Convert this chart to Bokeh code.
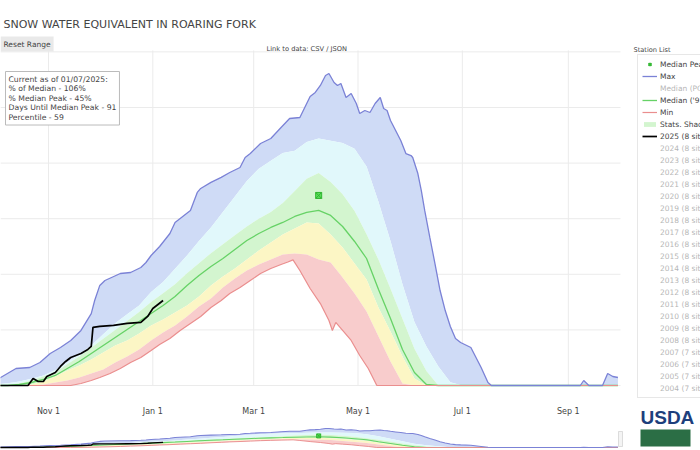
import numpy as np
import pandas as pd
from bokeh.plotting import figure
from bokeh.models import Range1d, Label, Legend, LegendItem, BoxAnnotation
from bokeh.core.properties import value
from bokeh.embed import file_html
from bokeh.resources import INLINE

# ---------------- data (days counted from start of water year) ----------------
WY_START = "2024-10-01"

grid_day = [0, 7, 14, 21, 28, 35, 42, 49, 56, 63, 70, 77, 84, 91, 98, 105, 112, 119, 126, 133,
            140, 147, 154, 161, 168, 175, 182, 189, 196, 203, 210, 217, 224, 231, 238, 245, 252,
            259, 266, 273, 280, 287, 294, 301, 308, 315, 322, 329, 336, 343, 350, 357, 364]

p90 = [0.1, 0.2, 0.35, 0.6, 0.9, 1.4, 2.1, 2.8, 3.6, 4.6, 5.6, 6.4, 7.2, 8.4, 9.3, 10.5, 11.7, 13.0,
       14.2, 15.6, 17.0, 18.4, 19.5, 20.2, 20.9, 21.1, 21.9, 22.2, 22.0, 21.8, 21.3, 19.7, 16.5, 13.0,
       9.1, 5.7, 3.5, 1.7, 0.3, 0, 0, 0, 0, 0, 0, 0, 0, 0, 0, 0, 0, 0, 0]
p70 = [0, 0.05, 0.2, 0.45, 0.8, 1.2, 1.9, 2.6, 3.4, 4.2, 5.0, 5.8, 6.6, 7.5, 8.3, 9.1, 10.1, 11.0,
       11.9, 12.7, 13.5, 14.3, 15.0, 15.6, 16.4, 17.5, 18.6, 19.1, 18.3, 17.2, 15.7, 13.6, 11.3, 8.7,
       6.0, 3.3, 1.3, 0, 0, 0, 0, 0, 0, 0, 0, 0, 0, 0, 0, 0, 0, 0, 0]
median_9120 = [0, 0, 0.09, 0.27, 0.54, 0.9, 1.53, 2.16, 2.88, 3.6, 4.32, 5.04, 5.76, 6.47, 7.19, 8.0,
               8.99, 9.89, 10.7, 11.42, 12.23, 13.04, 13.67, 14.21, 14.66, 15.2, 15.56, 15.74, 15.29,
               14.3, 12.95, 11.42, 8.63, 6.03, 3.24, 1.17, 0.09, 0, 0, 0, 0, 0, 0, 0, 0, 0, 0, 0, 0,
               0, 0, 0, 0]
p30 = [0, 0, 0, 0.09, 0.36, 0.81, 1.35, 1.8, 2.34, 2.97, 3.6, 4.05, 4.68, 5.4, 5.94, 6.56, 7.19, 8.0,
       9.0, 9.8, 10.52, 11.33, 12.14, 12.86, 13.58, 14.12, 14.66, 14.57, 13.58, 12.41, 10.97, 9.53,
       7.0, 4.86, 2.61, 0.63, 0, 0, 0, 0, 0, 0, 0, 0, 0, 0, 0, 0, 0, 0, 0, 0, 0]
p10 = [0, 0, 0, 0, 0.09, 0.27, 0.45, 0.72, 1.08, 1.44, 2.07, 2.61, 3.24, 4.05, 4.77, 5.4, 6.21, 7.1,
       7.82, 8.81, 9.62, 10.34, 10.88, 11.33, 11.78, 11.87, 11.78, 11.33, 11.06, 9.71, 8.27, 6.65,
       4.41, 2.16, 0.18, 0, 0, 0, 0, 0, 0, 0, 0, 0, 0, 0, 0, 0, 0, 0, 0, 0, 0]

max_day = [0, 3, 12, 20, 26, 32, 38, 44, 50, 56, 58, 61, 64, 73, 79, 85, 88, 91, 96, 102, 105, 108,
           114, 118, 120, 126, 132, 137, 143, 146, 149, 155, 161, 167, 172, 178, 182, 184, 187, 190,
           193, 195, 198, 200, 202, 205, 208, 211, 213, 216, 219, 222, 225, 227, 229, 231, 234, 237,
           240, 243, 244, 247, 249, 251, 254, 257, 260, 263, 266, 269, 272, 278, 284, 288, 290, 342,
           344, 347, 355, 358, 361, 364]
max_swe = [0.45, 0.72, 1.53, 1.62, 2.07, 2.88, 3.42, 4.05, 4.95, 6.47, 7.64, 9.0, 9.44, 10.07, 10.16,
           10.61, 11.06, 11.69, 12.5, 13.67, 14.66, 15.02, 15.74, 17.36, 17.72, 18.26, 18.71, 19.15,
           19.6, 20.5, 20.86, 21.76, 22.21, 23.2, 24.01, 24.1, 25.36, 25.99, 26.35, 26.98, 27.88,
           28.06, 27.25, 26.98, 27.16, 25.9, 26.26, 25.36, 24.46, 24.73, 24.55, 25.36, 25.9, 24.91,
           24.73, 23.83, 22.93, 22.03, 20.86, 20.68, 20.5, 19.06, 17.54, 15.74, 13.31, 10.97, 8.54,
           6.74, 5.31, 4.23, 3.87, 3.42, 1.62, 0.27, 0, 0, 0.45, 0, 0, 1.08, 0.81, 0.72]

min_day = [0, 44, 50, 56, 61, 67, 73, 79, 85, 91, 96, 102, 108, 114, 120, 126, 132, 137, 143, 149,
           155, 161, 167, 171, 174, 178, 184, 190, 195, 197, 199, 203, 208, 213, 218, 223, 364]
min_swe = [0, 0, 0.18, 0.45, 0.72, 1.08, 1.53, 2.07, 2.52, 3.15, 3.69, 4.23, 4.95, 5.58, 6.21, 7.01,
           7.64, 8.27, 8.81, 9.44, 10.07, 10.52, 10.88, 11.1, 11.3, 10.34, 8.72, 7.37, 5.85, 4.95,
           5.67, 4.95, 4.05, 2.7, 1.53, 0, 0]

wy2025_day = [0, 19, 22, 25, 28, 30, 35, 38, 41, 44, 50, 54, 56, 57, 61, 69, 77, 85, 89, 92, 95, 98]
wy2025_swe = [0, 0, 0.63, 0.36, 0.36, 0.81, 1.17, 1.71, 2.16, 2.52, 2.88, 3.24, 3.51, 5.22, 5.31,
              5.4, 5.58, 5.67, 6.21, 6.92, 7.28, 7.64]

median_peak_day = [189]
median_peak_swe = [17.09]

tick_dates = ["2024-11-01", "2025-01-01", "2025-03-01", "2025-05-01", "2025-07-01", "2025-09-01"]
tick_labels = ["Nov 1", "Jan 1", "Mar 1", "May 1", "Jul 1", "Sep 1"]
y_grid_vals = [0, 5, 10, 15, 20, 25, 30]

info_lines = ["Current as of 01/07/2025:", "% of Median - 106%", "% Median Peak - 45%",
              "Days Until Median Peak - 91", "Percentile - 59"]

year_labels = ["2024 (8 sites)", "2023 (8 sites)", "2022 (8 sites)", "2021 (8 sites)",
               "2020 (8 sites)", "2019 (8 sites)", "2018 (8 sites)", "2017 (8 sites)",
               "2016 (8 sites)", "2015 (8 sites)", "2014 (8 sites)", "2013 (8 sites)",
               "2012 (8 sites)", "2011 (8 sites)", "2010 (8 sites)", "2009 (8 sites)",
               "2008 (8 sites)", "2007 (7 sites)", "2006 (7 sites)", "2005 (7 sites)",
               "2004 (7 sites)"]
year_colors = ["#FFA15A", "#ab63fa", "#00cc96", "#EF553B", "#636efa", "#FECB52", "#FF97FF",
               "#B6E880", "#FF6692", "#19d3f3", "#FFA15A", "#ab63fa", "#00cc96", "#EF553B",
               "#636efa", "#FECB52", "#FF97FF", "#B6E880", "#FF6692", "#19d3f3", "#FFA15A"]

# ---------------- layout constants (canvas = frame = 700 x 450) ----------------
X_START_DAY, X_END_DAY = 2.93, 412.29      # days shown across the whole canvas width
PLOT_RIGHT_DAY = 365.5                      # right edge of the plotting area
Y_MAIN = (-5.845, 34.62)                    # inches across the whole canvas height
PLOT_TOP = 30.13                            # top edge of plotting area (inches)
Y_MINI = (-4.42, 658.7)                     # range-slider preview scale

T0 = np.datetime64(WY_START, "ms")
EPOCH_MS = float((T0 - np.datetime64("1970-01-01", "ms")).astype(np.int64))


def to_dates(days):
    return T0 + (np.array(days, dtype=float) * 86400000).astype("timedelta64[ms]")


def ms(days):
    return EPOCH_MS + days * 86400000.0


gx = to_dates(grid_day)
mx = to_dates(max_day)
nx = to_dates(min_day)
cx = to_dates(wy2025_day)
pkx = to_dates(median_peak_day)
tick_x = np.array([np.datetime64(d, "ms") for d in tick_dates])

FONT = "DejaVu Sans"
TXT = "#444444"
C_BLUE = "#cfdbf6"
C_CYAN = "#e1f8fb"
C_GREEN = "#d3f5cf"
C_YELLOW = "#fcf6c5"
C_RED = "#f8cccc"
C_MAX = "#7b82d6"
C_MED = "#66d266"
C_MIN = "#ea8e8e"
C_GRID = "#ebebeb"

p = figure(width=700, height=450, x_axis_type="datetime",
           x_range=Range1d(ms(X_START_DAY), ms(X_END_DAY)), y_range=Range1d(*Y_MAIN),
           x_axis_location=None, y_axis_location=None,
           toolbar_location=None, output_backend="svg", title=None,
           min_border_left=0, min_border_right=0, min_border_top=0, min_border_bottom=0,
           background_fill_color="white", border_fill_color="white", outline_line_color=None)
p.extra_y_ranges = {"mini": Range1d(*Y_MINI)}
for g in p.grid:
    g.visible = False

# grid lines of the plotting area
n = len(tick_x)
p.segment(x0=tick_x, y0=[0] * n, x1=tick_x, y1=[PLOT_TOP] * n, line_color=C_GRID, line_width=1)
k = len(y_grid_vals)
p.segment(x0=[ms(X_START_DAY)] * k, y0=y_grid_vals, x1=[ms(PLOT_RIGHT_DAY)] * k, y1=y_grid_vals,
          line_color=C_GRID, line_width=1)

# x tick labels
p.text(x=tick_x, y=[0] * n, text=tick_labels, y_offset=26, text_font=value(FONT),
       text_font_size="8px", text_color=TXT, text_align="center", text_baseline="middle")


def draw_series(fig, yname="default", lw=1.0, msize=6):
    kw = dict(y_range_name=yname)
    fig.patch(np.concatenate([mx, gx[::-1]]), list(max_swe) + list(p90[::-1]),
              fill_color=C_BLUE, line_color=None, **kw)
    fig.varea(x=gx, y1=p70, y2=p90, fill_color=C_CYAN, **kw)
    r_green = fig.varea(x=gx, y1=p30, y2=p70, fill_color=C_GREEN, **kw)
    fig.varea(x=gx, y1=p10, y2=p30, fill_color=C_YELLOW, **kw)
    fig.patch(np.concatenate([gx, nx[::-1]]), list(p10) + list(min_swe[::-1]),
              fill_color=C_RED, line_color=None, **kw)
    r_med = fig.line(gx, median_9120, line_color=C_MED, line_width=1.3 * lw, **kw)
    r_min = fig.line(nx, min_swe, line_color=C_MIN, line_width=1.2 * lw, **kw)
    r_max = fig.line(mx, max_swe, line_color=C_MAX, line_width=1.3 * lw, **kw)
    r_cur = fig.line(cx, wy2025_swe, line_color="black", line_width=1.7 * lw, **kw)
    r_pk = fig.scatter(pkx, median_peak_swe, marker="square_x", size=msize,
                       fill_color="#5bdc5b", line_color="#2fb52f", line_width=1, **kw)
    return dict(green=r_green, med=r_med, min=r_min, max=r_max, cur=r_cur, pk=r_pk)


R = draw_series(p)
draw_series(p, yname="mini", lw=0.8, msize=4)

r_por = p.line([], [], line_color="#bbbbbb", line_dash="4 2", line_width=1.3, visible=False)
year_r = [p.line([], [], line_color=c, line_width=1.3, visible=False) for c in year_colors]

items = [LegendItem(label="Median Peak", renderers=[R["pk"]]),
         LegendItem(label="Max", renderers=[R["max"]]),
         LegendItem(label="Median (POR)", renderers=[r_por]),
         LegendItem(label="Median ('91-'20)", renderers=[R["med"]]),
         LegendItem(label="Min", renderers=[R["min"]]),
         LegendItem(label="Stats. Shading", renderers=[R["green"]]),
         LegendItem(label="2025 (8 sites)", renderers=[R["cur"]])]
items += [LegendItem(label=l, renderers=[r]) for l, r in zip(year_labels, year_r)]

# legend location = its bottom-left corner, in px from the canvas bottom-left
legend = Legend(items=items, location=(637, 52), orientation="vertical",
                padding=4, margin=0, spacing=2, glyph_height=6, glyph_width=15,
                label_height=10, label_standoff=3, label_text_font=FONT,
                label_text_font_size="7.5px", label_text_color=TXT,
                border_line_color="#d0d0d0", border_line_width=1,
                background_fill_color="white", background_fill_alpha=1.0,
                click_policy="hide", inactive_fill_color="white", inactive_fill_alpha=0.6)
p.add_layout(legend)

# texts around the plot (screen units from the canvas bottom-left)
p.add_layout(Label(x=3, y=426, x_units="screen", y_units="screen",
                   text="SNOW WATER EQUIVALENT IN ROARING FORK", text_font=FONT,
                   text_font_size="11px", text_color=TXT, text_baseline="middle"))
p.add_layout(Label(x=0, y=406.5, x_units="screen", y_units="screen", text="Reset Range",
                   text_font=FONT, text_font_size="7.5px", text_color=TXT, text_baseline="middle",
                   background_fill_color="#e9e9e9", padding=3))
p.add_layout(Label(x=266, y=402, x_units="screen", y_units="screen",
                   text="Link to data: CSV / JSON", text_font=FONT, text_font_size="6.7px",
                   text_color=TXT, text_baseline="middle"))
p.add_layout(Label(x=633, y=401, x_units="screen", y_units="screen", text="Station List",
                   text_font=FONT, text_font_size="6.6px", text_color=TXT, text_baseline="middle"))
p.add_layout(Label(x=5, y=379, x_units="screen", y_units="screen", text="\n".join(info_lines),
                   text_font=FONT, text_font_size="7.7px", text_color=TXT, text_baseline="top",
                   text_line_height=1.07, border_line_color="#bbbbbb", border_line_width=1,
                   background_fill_color="white", padding=3))

# USDA logo
p.add_layout(Label(x=640, y=23, x_units="screen", y_units="screen", text="USDA",
                   text_font="Liberation Sans", text_font_size="19px", text_font_style="bold",
                   text_color="#1d3f7c", text_baseline="bottom"))
p.add_layout(BoxAnnotation(left=640, right=690, bottom=4, top=21, left_units="screen",
                           right_units="screen", bottom_units="screen", top_units="screen",
                           fill_color="#2b6e45", fill_alpha=1, line_color=None))
# range slider grab handle
p.add_layout(BoxAnnotation(left=618, right=622, bottom=4, top=19, left_units="screen",
                           right_units="screen", bottom_units="screen", top_units="screen",
                           fill_color="#f4f4f4", fill_alpha=1, line_color="#999999", line_width=1))

open("out.html", "w").write(file_html(p, INLINE))
